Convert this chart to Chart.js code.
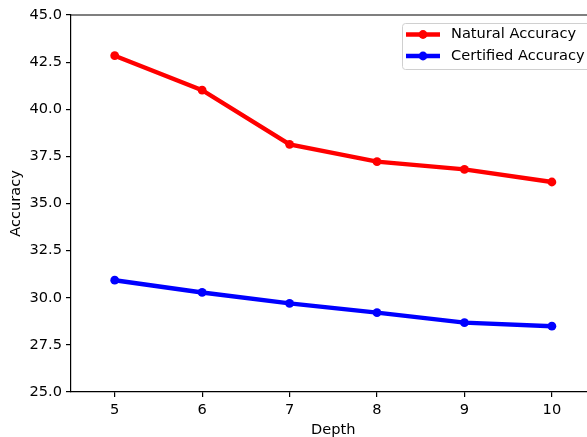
<!DOCTYPE html>
<html>
<head>
<meta charset="utf-8">
<script src="https://cdn.jsdelivr.net/npm/chart.js@4"></script>
<style>
  html, body { margin: 0; padding: 0; background: #fff; overflow: hidden; }
  #wrap { width: 600px; height: 437px; }
</style>
</head>
<body>
<div id="wrap"><canvas id="chart" width="600" height="437"></canvas></div>
<script>
// data
const depths = [5, 6, 7, 8, 9, 10];
const naturalAcc = [42.84, 41.01, 38.14, 37.22, 36.81, 36.14];
const certifiedAcc = [30.93, 30.28, 29.70, 29.21, 28.68, 28.49];
const yTicks = [25, 27.5, 30, 32.5, 35, 37.5, 40, 42.5, 45];
const seriesNames = ['Natural Accuracy', 'Certified Accuracy'];
const seriesColors = ['#ff0000', '#0000ff'];

const FONT = 'DejaVu Sans';
const FSIZE = 14.6;

const toPoints = (ys) => depths.map((d, i) => ({ x: d, y: ys[i] }));

// top spine + matplotlib-ish legend box
const extras = {
  id: 'extras',
  afterDraw(chart) {
    const { ctx, chartArea } = chart;
    ctx.save();
    ctx.strokeStyle = '#000';
    ctx.lineWidth = 1.2;
    ctx.beginPath();
    ctx.moveTo(chartArea.left - 0.6, chartArea.top);
    ctx.lineTo(chartArea.right + 0.6, chartArea.top);
    ctx.stroke();

    // legend frame
    const bx = 402, by = 23, bw = 200, bh = 46, r = 3;
    ctx.fillStyle = 'rgba(255,255,255,0.8)';
    ctx.strokeStyle = '#d0d0d0';
    ctx.lineWidth = 1;
    ctx.beginPath();
    ctx.roundRect(bx + 0.5, by + 0.5, bw, bh, r);
    ctx.fill();
    ctx.stroke();

    const rows = [34.5, 56];
    ctx.font = FSIZE + 'px "' + FONT + '"';
    ctx.textBaseline = 'middle';
    ctx.textAlign = 'left';
    seriesNames.forEach((name, i) => {
      const y = rows[i];
      ctx.strokeStyle = seriesColors[i];
      ctx.fillStyle = seriesColors[i];
      ctx.lineWidth = 4.4;
      ctx.beginPath();
      ctx.moveTo(406, y);
      ctx.lineTo(440, y);
      ctx.stroke();
      ctx.beginPath();
      ctx.arc(423, y, 4.4, 0, Math.PI * 2);
      ctx.fill();
      ctx.fillStyle = '#000';
      ctx.fillText(name, 451, y);
    });
    ctx.restore();
  }
};

new Chart(document.getElementById('chart'), {
  type: 'line',
  data: {
    datasets: [
      {
        label: seriesNames[0],
        data: toPoints(naturalAcc),
        borderColor: seriesColors[0],
        backgroundColor: seriesColors[0],
        borderWidth: 4.4,
        pointRadius: 4.4,
        pointBorderWidth: 0,
        pointHoverRadius: 4.4,
        tension: 0
      },
      {
        label: seriesNames[1],
        data: toPoints(certifiedAcc),
        borderColor: seriesColors[1],
        backgroundColor: seriesColors[1],
        borderWidth: 4.4,
        pointRadius: 4.4,
        pointBorderWidth: 0,
        pointHoverRadius: 4.4,
        tension: 0
      }
    ]
  },
  options: {
    responsive: false,
    animation: false,
    devicePixelRatio: 1,
    layout: { padding: { left: 0, top: 15, right: 1, bottom: 0 } },
    plugins: {
      legend: { display: false },
      tooltip: { enabled: false }
    },
    scales: {
      x: {
        type: 'linear',
        min: 4.5,
        max: 10.5,
        afterBuildTicks: (scale) => { scale.ticks = depths.map(v => ({ value: v })); },
        afterFit: (scale) => { scale.height = 45; },
        ticks: {
          color: '#000',
          font: { family: FONT, size: FSIZE },
          padding: 4,
          maxRotation: 0,
          callback: (v) => String(v)
        },
        grid: { drawOnChartArea: false, drawTicks: true, tickLength: 5, color: '#000', lineWidth: 1.2 },
        border: { display: true, color: '#000', width: 1.2 },
        title: {
          display: true,
          text: 'Depth',
          color: '#000',
          font: { family: FONT, size: FSIZE },
          padding: { top: 0, bottom: -2 }
        }
      },
      y: {
        min: 25,
        max: 45,
        afterBuildTicks: (scale) => { scale.ticks = yTicks.map(v => ({ value: v })); },
        afterFit: (scale) => { scale.width = 71; },
        ticks: {
          color: '#000',
          font: { family: FONT, size: FSIZE },
          padding: 4,
          callback: (v) => Number(v).toFixed(1)
        },
        grid: { drawOnChartArea: false, drawTicks: true, tickLength: 5, color: '#000', lineWidth: 1.2 },
        border: { display: true, color: '#000', width: 1.2 },
        title: {
          display: true,
          text: 'Accuracy',
          color: '#000',
          font: { family: FONT, size: FSIZE },
          padding: { top: 7, bottom: 0 }
        }
      }
    }
  },
  plugins: [extras]
});
</script>
</body>
</html>
